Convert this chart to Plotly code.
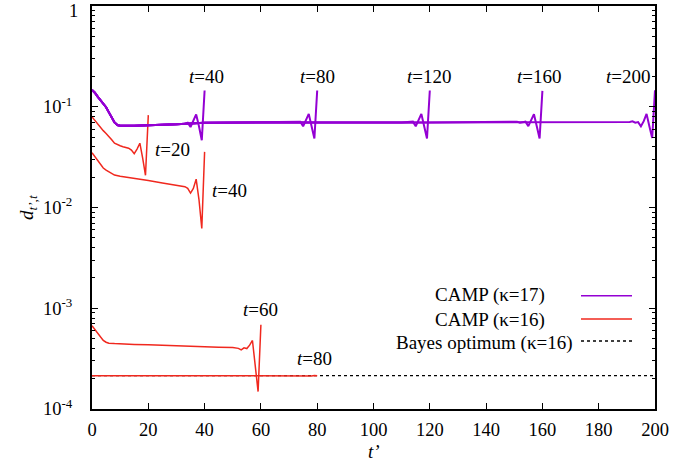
import plotly.graph_objects as go

# ---------------- data ----------------
# CAMP (kappa=17): runs stopped at t = 40, 80, 120, 160, 200
p40_x = [0, 1, 2, 3, 4, 5, 6, 7, 8, 9, 10, 15, 20, 25, 30, 33, 34, 35, 36, 37, 38, 39, 40]
p40_y = [0.147, 0.138, 0.126, 0.117, 0.108, 0.099, 0.088, 0.077, 0.070, 0.066, 0.065, 0.0648,
         0.0652, 0.066, 0.067, 0.068, 0.0695, 0.063, 0.072, 0.084, 0.064, 0.0465, 0.145]

p80_x = [0, 1, 2, 3, 4, 5, 6, 7, 8, 9, 10, 15, 20, 25, 30, 40, 50, 60, 70, 72, 73, 74, 75, 76, 77, 78, 79, 80]
p80_y = [0.147, 0.138, 0.126, 0.117, 0.108, 0.099, 0.088, 0.077, 0.070, 0.066, 0.065, 0.0648,
         0.0652, 0.066, 0.067, 0.0695, 0.070, 0.070, 0.070, 0.0703, 0.0702, 0.0712, 0.064, 0.073,
         0.085, 0.064, 0.0485, 0.145]

p120_x = [0, 1, 2, 3, 4, 5, 6, 7, 8, 9, 10, 15, 20, 25, 30, 40, 60, 80, 100, 110, 112, 113, 114,
          115, 116, 117, 118, 119, 120]
p120_y = [0.147, 0.138, 0.126, 0.117, 0.108, 0.099, 0.088, 0.077, 0.070, 0.066, 0.065, 0.0648,
          0.0652, 0.066, 0.067, 0.0695, 0.070, 0.070, 0.070, 0.070, 0.0703, 0.0702, 0.0712, 0.064,
          0.073, 0.085, 0.064, 0.0485, 0.145]

p160_x = [0, 1, 2, 3, 4, 5, 6, 7, 8, 9, 10, 15, 20, 25, 30, 40, 60, 80, 100, 120, 140, 150, 151,
          152, 153, 154, 155, 156, 157, 158, 159, 160]
p160_y = [0.147, 0.138, 0.126, 0.117, 0.108, 0.099, 0.088, 0.077, 0.070, 0.066, 0.065, 0.0648,
          0.0652, 0.066, 0.067, 0.0695, 0.070, 0.070, 0.070, 0.070, 0.070, 0.0702, 0.0712, 0.0695,
          0.0702, 0.0712, 0.0643, 0.073, 0.0845, 0.064, 0.0485, 0.144]

p200_x = [0, 1, 2, 3, 4, 5, 6, 7, 8, 9, 10, 15, 20, 25, 30, 40, 60, 80, 100, 120, 140, 160, 180,
          188, 189, 190, 191, 192, 193, 194, 195, 196, 197, 198, 199, 200]
p200_y = [0.147, 0.138, 0.126, 0.117, 0.108, 0.099, 0.088, 0.077, 0.070, 0.066, 0.065, 0.0648,
          0.0652, 0.066, 0.067, 0.0695, 0.070, 0.070, 0.070, 0.070, 0.070, 0.070, 0.070,
          0.0702, 0.0705, 0.0712, 0.0708, 0.0718, 0.0695, 0.0705, 0.064, 0.072, 0.085, 0.064,
          0.049, 0.146]

# CAMP (kappa=16): runs stopped at t = 20, 40, 60, 80
r20_x = [0, 1, 2, 3, 4, 5, 6, 7, 8, 9, 10, 11, 12, 13, 14, 15, 16, 17, 18, 19, 20]
r20_y = [0.0794, 0.073, 0.067, 0.0625, 0.058, 0.0544, 0.051, 0.047, 0.0435, 0.042, 0.041,
         0.0402, 0.0395, 0.0388, 0.0372, 0.0342, 0.038, 0.0435, 0.031, 0.0209, 0.0826]

r40_x = [0, 1, 2, 3, 4, 5, 6, 7, 8, 10, 13, 16, 20, 25, 30, 33, 34, 35, 36, 37, 38, 39, 40]
r40_y = [0.0350, 0.032, 0.029, 0.0265, 0.0247, 0.0235, 0.0225, 0.0217, 0.0210, 0.0204,
         0.0199, 0.0193, 0.0185, 0.0175, 0.0166, 0.0161, 0.0155, 0.0139, 0.0155, 0.0191, 0.012,
         0.0062, 0.0357]

r60_x = [0, 1, 2, 3, 4, 5, 6, 8, 10, 15, 20, 25, 30, 35, 40, 45, 50, 52, 53, 54, 55, 56, 57, 58,
         59, 60]
r60_y = [0.000670, 0.00062, 0.00057, 0.00052, 0.00048, 0.00046, 0.00045, 0.000446, 0.000442,
         0.000438, 0.000434, 0.000428, 0.000422, 0.000418, 0.000415, 0.000411, 0.000407,
         0.000400, 0.000386, 0.000405, 0.000398, 0.000430, 0.000479, 0.000270, 0.000149,
         0.000685]

r80_x = [0, 10, 20, 30, 40, 50, 60, 66, 68, 69, 70, 72, 76, 78, 79, 80]
r80_y = [0.000214, 0.000214, 0.000214, 0.000214, 0.000214, 0.000214, 0.000214, 0.000214,
         0.000213, 0.000211, 0.000214, 0.000214, 0.000214, 0.000213, 0.000215, 0.000214]

# Bayes optimum (kappa=16)
bayes_x = [0, 200]
bayes_y = [0.000214, 0.000214]

y_tick_vals = [1e-4, 1e-3, 1e-2, 1e-1, 1]
y_tick_text = ["10<sup>-4</sup>", "10<sup>-3</sup>", "10<sup>-2</sup>", "10<sup>-1</sup>", ""]
y_top_label = "1"
x_tick_vals = [0, 20, 40, 60, 80, 100, 120, 140, 160, 180, 200]

legend_labels = ["CAMP (\u03ba=17)", "CAMP (\u03ba=16)", "Bayes optimum (\u03ba=16)"]

# labels: (text, t', log10 d)
purple_labels = [("40", 40.65, -0.704), ("80", 80.1, -0.704), ("120", 120.0, -0.704),
                 ("160", 159.1, -0.704), ("200", 190.6, -0.704)]
red_labels = [("20", 28.6, -1.423), ("40", 48.9, -1.827), ("60", 59.95, -3.009), ("80", 78.9, -3.502)]

# ---------------- style ----------------
PURPLE = "#9400d3"
RED = "#f0281e"
FONT = "Liberation Serif"
W, H = 700, 470
L, R, T, B = 92, 655, 6, 409


def px(x):
    return (x - L) / (R - L)


def py(y):
    return (B - y) / (B - T)


fig = go.Figure()
fig.add_trace(go.Scatter(x=bayes_x, y=bayes_y, mode="lines",
                         line=dict(color="black", width=1.3, dash="3px,3px"),
                         hoverinfo="skip"))
for xs, ys in [(r20_x, r20_y), (r40_x, r40_y), (r60_x, r60_y), (r80_x, r80_y)]:
    fig.add_trace(go.Scatter(x=xs, y=ys, mode="lines",
                             line=dict(color=RED, width=1.5), hoverinfo="skip"))
for xs, ys in [(p40_x, p40_y), (p80_x, p80_y), (p120_x, p120_y), (p160_x, p160_y), (p200_x, p200_y)]:
    fig.add_trace(go.Scatter(x=xs, y=ys, mode="lines",
                             line=dict(color=PURPLE, width=2), hoverinfo="skip"))

annotations = []
for txt, xv, yv in purple_labels + red_labels:
    annotations.append(dict(x=xv, y=yv, xref="x", yref="y", text="<i>t</i>=" + txt,
                            showarrow=False, xanchor="center", yanchor="middle",
                            font=dict(size=19, family=FONT)))

# legend (gnuplot style: text then sample)
leg_rows = [(legend_labels[0], 489.7, 295.0, 295.7, PURPLE, "solid", 1.5),
            (legend_labels[1], 489.7, 320.0, 319.0, RED, "solid", 1.5),
            (legend_labels[2], 484.7, 342.5, 341.0, "black", "3px,3px", 1.3)]
shapes = []
for txt, cx, cy, ly, col, dash, wd in leg_rows:
    annotations.append(dict(x=px(cx), y=py(cy), xref="paper", yref="paper", text=txt,
                            showarrow=False, xanchor="center", yanchor="middle",
                            font=dict(size=19, family=FONT)))
    shapes.append(dict(type="line", xref="paper", yref="paper", x0=px(581), x1=px(632),
                       y0=py(ly), y1=py(ly), line=dict(color=col, width=wd, dash=dash)))

# top y tick label "1" (kept inside the page)
annotations.append(dict(x=px(80), y=py(11), xref="paper", yref="paper", text=y_top_label,
                        showarrow=False, xanchor="right", yanchor="middle",
                        font=dict(size=18.5, family=FONT)))

# axis titles
annotations.append(dict(x=px(373.5), y=py(451), xref="paper", yref="paper", text="<i>t\u2019</i>",
                        showarrow=False, xanchor="center", yanchor="middle",
                        font=dict(size=19, family=FONT)))
annotations.append(dict(x=px(28), y=py(208), xref="paper", yref="paper",
                        text="<i>d</i><sub><i>t\u2019</i>,<i>t</i></sub>", textangle=-90,
                        showarrow=False, xanchor="center", yanchor="middle",
                        font=dict(size=19, family=FONT)))

minor_vals = [k * 10.0 ** e for e in range(-4, 0) for k in range(2, 10)]

fig.update_layout(
    width=W, height=H,
    margin=dict(l=L, r=W - R, t=T, b=H - B, pad=0, autoexpand=False),
    paper_bgcolor="white", plot_bgcolor="white",
    showlegend=False,
    font=dict(family=FONT, size=19, color="black"),
    annotations=annotations, shapes=shapes,
)
fig.update_xaxes(range=[0, 200], tickvals=x_tick_vals, ticks="inside", ticklen=6, tickwidth=1.2,
                 tickcolor="black", showline=True, linewidth=2, linecolor="black", mirror="ticks",
                 showgrid=False, zeroline=False, automargin=False, ticklabeloverflow="allow",
                 ticklabelstandoff=3,
                 tickfont=dict(size=18.5, family=FONT, color="black"))
fig.update_yaxes(type="log", range=[-4, 0.0005], tickvals=y_tick_vals, ticktext=y_tick_text,
                 ticks="inside", ticklen=6, tickwidth=1.2, tickcolor="black",
                 minor=dict(ticks="inside", ticklen=3, tickwidth=1, tickcolor="black",
                            tickvals=minor_vals, showgrid=False),
                 showline=True, linewidth=2, linecolor="black", mirror="ticks",
                 showgrid=False, zeroline=False, automargin=False, ticklabeloverflow="allow",
                 ticklabelstandoff=14,
                 tickfont=dict(size=18.5, family=FONT, color="black"))

fig.write_html("out.html", config={"displayModeBar": False},
               post_script="document.body.style.margin='0';document.body.style.padding='0';")
